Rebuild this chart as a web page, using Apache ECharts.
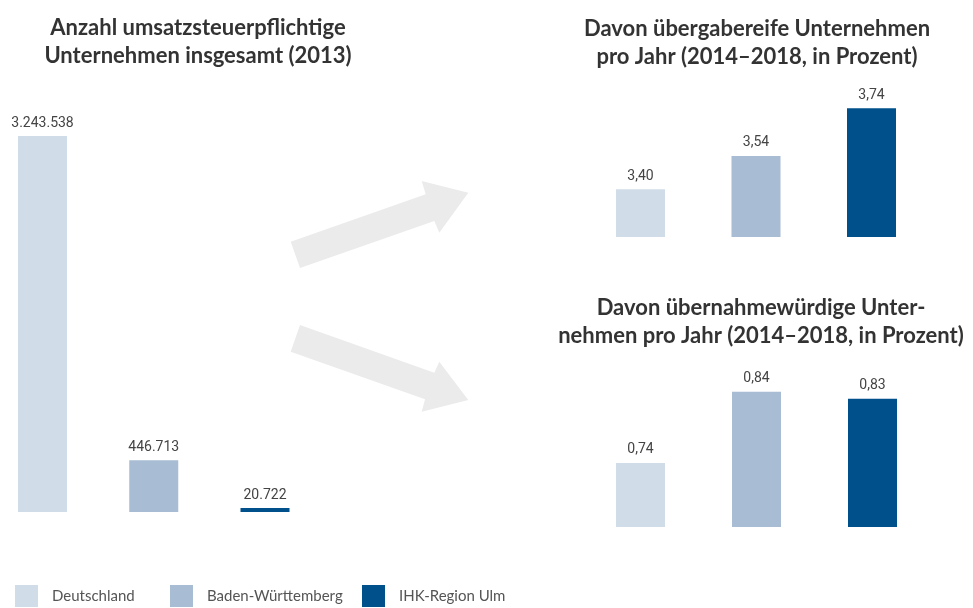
<!DOCTYPE html>
<html><head><meta charset="utf-8">
<script src="https://cdn.jsdelivr.net/npm/echarts@6/dist/echarts.min.js"></script>
<style>html,body{margin:0;padding:0;background:#fff}#c{width:973px;height:608px}</style>
</head><body><div id="c"></div>
<script>
const regions = ['Deutschland', 'Baden-Württemberg', 'IHK-Region Ulm'];
const colors = ['#d0dce7', '#a8bcd3', '#00508b'];
const totals2013 = [3243538, 446713, 20722];
const uebergabereif = [3.40, 3.54, 3.74];
const uebernahmewuerdig = [0.74, 0.84, 0.83];
const titles = [
  'Anzahl umsatzsteuerpflichtige\nUnternehmen insgesamt (2013)',
  'Davon übergabereife Unternehmen\npro Jahr (2014–2018, in Prozent)',
  'Davon übernahmewürdige Unter-\nnehmen pro Jahr (2014–2018, in Prozent)'
];

const deInt = v => v.toString().replace(/\B(?=(\d{3})+(?!\d))/g, '.');
const deDec = v => v.toFixed(2).replace('.', ',');

const grids = [
  {left: 42.5, width: 222.5, top: 136, height: 376},
  {left: 640.5, width: 231, top: 94, height: 143},
  {left: 640.5, width: 232, top: 384.5, height: 142.6}
];
const yRanges = [[0, 3243538], [3.2, 3.8], [0.65, 0.85]];
const dataSets = [totals2013, uebergabereif, uebernahmewuerdig];
const fmts = [deInt, deDec, deDec];

const series = [];
dataSets.forEach((ds, g) => {
  regions.forEach((name, i) => {
    series.push({
      type: 'bar', name: name, xAxisIndex: g, yAxisIndex: g,
      barWidth: 49, barGap: '-100%', barMinHeight: g === 0 ? 4 : 0,
      itemStyle: {color: colors[i]},
      label: {show: true, position: 'top', distance: 6, color: '#444',
        fontFamily: 'Roboto', fontSize: 14,
        formatter: p => fmts[g](p.value)},
      data: ds.map((v, k) => k === i ? v : '-')
    });
  });
});

const titleCfg = [
  {left: 198, top: 14},
  {left: 757, top: 15},
  {left: 761, top: 294}
];

const legendLeft = [15, 170, 362];

const option = {
  animation: false,
  title: titles.map((t, i) => ({
    text: t, left: titleCfg[i].left, top: titleCfg[i].top, textAlign: 'center', padding: 0,
    textStyle: {fontFamily: 'Lato', fontWeight: 'bold', fontSize: 22, lineHeight: 28, color: '#333'}
  })),
  legend: regions.map((r, i) => ({
    data: [r], left: legendLeft[i], top: 585, padding: 0,
    icon: 'rect', itemWidth: 23, itemHeight: 22, selectedMode: false,
    textStyle: {fontFamily: 'Lato', fontSize: 15, color: '#555', padding: [0, 0, 0, 9]}
  })),
  grid: grids,
  xAxis: grids.map((g, i) => ({type: 'category', gridIndex: i, data: regions, boundaryGap: false, show: false})),
  yAxis: grids.map((g, i) => ({type: 'value', gridIndex: i, min: yRanges[i][0], max: yRanges[i][1], show: false})),
  graphic: [
    {type: 'polygon', z: -1, shape: {points: [[290.7, 241.7], [425.7, 194.3], [421.7, 181], [468.3, 192.7], [439.3, 232.7], [434.3, 221], [300, 268]]}, style: {fill: '#ebebeb'}},
    {type: 'polygon', z: -1, shape: {points: [[300, 325], [434.3, 372.7], [439.3, 361.7], [468.3, 400], [421.7, 411.7], [425, 399.3], [290.7, 351.7]]}, style: {fill: '#ebebeb'}}
  ],
  series: series
};
echarts.init(document.getElementById('c'), null, {renderer: 'canvas'}).setOption(option);
</script></body></html>
